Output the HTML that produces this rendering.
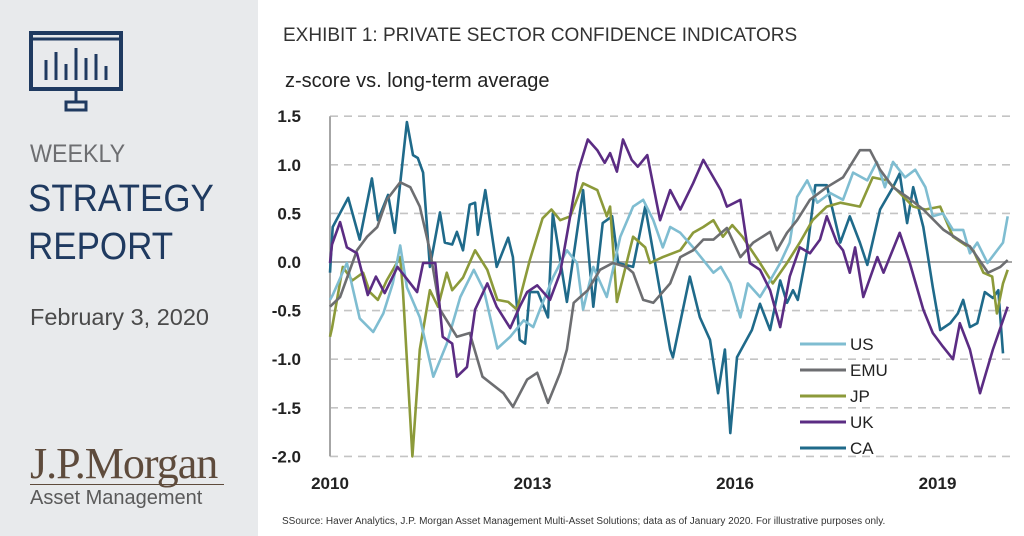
<!DOCTYPE html>
<html><head><meta charset="utf-8"><style>
body{margin:0;width:1024px;height:536px;overflow:hidden;background:#fff;font-family:"Liberation Sans",sans-serif}
#side{position:absolute;left:0;top:0;width:258px;height:536px;background:#e8eaec}
.t{position:absolute;white-space:nowrap}
</style></head><body>
<div id="side">
<svg class="t" style="left:28px;top:30px" width="96" height="84">
<rect x="3" y="3" width="90" height="56" fill="none" stroke="#1f3a60" stroke-width="4"/>
<line x1="3" y1="9" x2="93" y2="9" stroke="#1f3a60" stroke-width="3"/>
<g stroke="#1f3a60" stroke-width="3"><line x1="18" y1="50" x2="18" y2="30"/><line x1="28" y1="50" x2="28" y2="22"/><line x1="38" y1="50" x2="38" y2="34"/><line x1="48" y1="50" x2="48" y2="18"/><line x1="58" y1="50" x2="58" y2="28"/><line x1="68" y1="50" x2="68" y2="24"/><line x1="78" y1="50" x2="78" y2="36"/><line x1="48" y1="59" x2="48" y2="72"/></g>
<rect x="38" y="72" width="20" height="8" fill="none" stroke="#1f3a60" stroke-width="3"/>
</svg>
<div class="t" style="left:30px;top:140px;font-size:25px;color:#6d6e71;transform:scaleX(0.93);transform-origin:left">WEEKLY</div>
<div class="t" style="left:28px;top:178px;font-size:38px;color:#1f3a60;transform:scaleX(0.92);transform-origin:left">STRATEGY</div>
<div class="t" style="left:28px;top:226px;font-size:38px;color:#1f3a60;transform:scaleX(0.92);transform-origin:left">REPORT</div>
<div class="t" style="left:30px;top:304px;font-size:23.5px;color:#4a4a4a">February 3, 2020</div>
<div class="t" style="left:30px;top:438px;font-size:44px;color:#5e4b3c;font-family:'Liberation Serif',serif;letter-spacing:-1px">J.P.Morgan</div>
<div class="t" style="left:30px;top:484px;font-size:20px;color:#5a5a5a;border-top:1.5px solid #5e4b3c;padding-top:2px;width:194px">Asset Management</div>
</div>
<div class="t" style="left:283px;top:25px;font-size:19px;color:#333">EXHIBIT 1: PRIVATE SECTOR CONFIDENCE INDICATORS</div>
<div class="t" style="left:285px;top:70px;font-size:20px;color:#222">z-score vs. long-term average</div>
<div class="t" style="left:282px;top:516px;font-size:10px;color:#333">SSource: Haver Analytics, J.P. Morgan Asset Management Multi-Asset Solutions; data as of January 2020. For illustrative purposes only.</div>
<svg id="chart" class="t" style="left:0;top:0" width="1024" height="536"></svg>
<script>
const yTicks=[1.5,1.0,0.5,0.0,-0.5,-1.0,-1.5,-2.0];
const yTickLabels=["1.5","1.0","0.5","0.0","-0.5","-1.0","-1.5","-2.0"];
const xTicks=[0,3,6,9];
const xTickLabels=["2010","2013","2016","2019"];
const seriesNames=["US","EMU","JP","UK","CA"];
const seriesColors=["#7fbdd1","#6d6e71","#8c9a3a","#5b2c83","#1f6a8a"];
// time in years since Jan 2010
const usT=[0,.04,.25,.44,.64,.79,.93,1.04,1.14,1.33,1.53,1.73,1.93,2.13,2.28,2.48,2.67,2.87,3.01,3.11,3.31,3.51,3.66,3.75,3.90,4.10,4.30,4.49,4.64,4.79,4.93,5.04,5.19,5.38,5.53,5.68,5.79,5.93,6.08,6.19,6.37,6.52,6.67,6.81,6.92,7.07,7.22,7.41,7.60,7.75,7.96,8.10,8.22,8.34,8.52,8.67,8.82,8.93,9.08,9.23,9.38,9.48,9.59,9.74,9.97,10.04];
const usV=[-.39,-.34,-.01,-.58,-.72,-.53,-.22,.17,-.26,-.57,-1.18,-.84,-.36,-.08,-.29,-.89,-.77,-.6,-.67,-.49,-.15,.12,-.01,-.49,-.05,-.36,.26,.57,.64,.43,.15,.36,.3,.15,.02,-.11,-.05,-.22,-.57,-.22,-.36,-.19,-.01,.2,.67,.84,.61,.71,.64,.92,.84,1.03,.77,1.03,.87,.95,.77,.47,.5,.33,.33,.09,.2,-.01,.2,.47];
const emuT=[0,.15,.4,.55,.7,.84,1.04,1.19,1.33,1.48,1.63,1.88,2.07,2.26,2.57,2.71,2.92,3.07,3.23,3.41,3.51,3.61,3.82,4.0,4.19,4.39,4.49,4.64,4.79,5.04,5.19,5.38,5.53,5.68,5.88,6.08,6.27,6.52,6.62,6.77,6.92,7.11,7.36,7.60,7.85,8.0,8.15,8.34,8.55,8.79,9.09,9.38,9.48,9.75,9.93,10.04];
const emuV=[-.46,-.36,.12,.26,.36,.64,.82,.77,.57,.12,-.49,-.77,-.73,-1.18,-1.35,-1.49,-1.21,-1.14,-1.45,-1.14,-.9,-.42,-.29,-.08,-.01,-.05,-.11,-.39,-.42,-.22,.05,.12,.23,.23,.35,.05,.2,.31,.12,.3,.43,.64,.77,.87,1.15,1.15,.95,.77,.67,.54,.33,.2,.16,-.11,-.05,.02];
const jpT=[0,.03,.19,.33,.49,.59,.71,.84,1.04,1.08,1.22,1.33,1.48,1.60,1.73,1.81,1.97,2.15,2.33,2.48,2.64,2.77,2.96,3.15,3.28,3.41,3.56,3.75,3.96,4.10,4.15,4.25,4.49,4.59,4.67,4.74,4.93,5.19,5.38,5.53,5.68,5.82,5.96,6.11,6.37,6.56,6.77,6.96,7.15,7.36,7.56,7.85,8.04,8.25,8.44,8.64,8.82,9.04,9.23,9.53,9.68,9.81,9.88,9.97,10.04];
const jpV=[-.77,-.68,-.05,-.19,-.11,-.31,-.39,-.19,.05,-.29,-2.0,-.9,-.29,-.46,-.11,-.29,-.16,.12,-.08,-.39,-.41,-.49,.02,.45,.54,.43,.47,.81,.74,.47,.57,-.41,.26,.2,.15,-.01,.05,.12,.3,.36,.43,.26,.38,.26,-.01,-.22,-.01,.2,.43,.57,.61,.57,.87,.84,.71,.57,.54,.57,.26,.12,-.11,-.15,-.53,-.22,-.08];
const ukT=[0,.03,.15,.25,.4,.56,.68,.81,1.0,1.29,1.38,1.56,1.67,1.81,1.88,2.03,2.15,2.33,2.47,2.67,2.81,2.92,3.07,3.26,3.41,3.53,3.67,3.82,3.96,4.07,4.15,4.25,4.34,4.47,4.56,4.70,4.89,5.04,5.19,5.38,5.53,5.68,5.79,5.88,6.08,6.22,6.37,6.52,6.67,6.81,6.96,7.11,7.26,7.36,7.51,7.60,7.70,7.78,7.90,8.11,8.20,8.44,8.59,8.79,8.93,9.08,9.23,9.33,9.48,9.63,9.82,10.04];
const ukV=[-.01,.18,.41,.15,.09,-.34,-.15,-.32,-.05,-.31,-.01,-.01,-.77,-.84,-1.18,-1.08,-.49,-.22,-.46,-.68,-.46,-.31,-.24,-.39,-.11,.36,.92,1.26,1.15,1.02,1.12,.93,1.26,1.05,.98,1.1,.43,.74,.54,.81,1.05,.87,.74,.57,.64,-.01,-.08,-.29,-.67,-.15,.15,.09,.23,.47,.2,.12,-.11,.15,-.36,.05,-.11,.3,-.01,-.49,-.73,-.87,-1.0,-.63,-.9,-1.35,-.9,-.46];
const caT=[0,.04,.27,.44,.62,.71,.86,.96,1.14,1.23,1.30,1.38,1.48,1.63,1.70,1.81,1.88,1.97,2.07,2.15,2.19,2.30,2.47,2.64,2.71,2.81,2.89,2.96,3.08,3.23,3.30,3.51,3.75,3.90,4.04,4.18,4.27,4.49,4.67,5.04,5.08,5.33,5.48,5.63,5.75,5.85,5.93,6.03,6.25,6.37,6.52,6.67,6.77,6.86,6.93,7.07,7.19,7.36,7.56,7.70,7.85,7.96,8.15,8.34,8.44,8.55,8.64,8.79,8.93,9.04,9.19,9.30,9.38,9.48,9.59,9.70,9.82,9.90,9.97];
const caV=[-.11,.36,.66,.23,.86,.43,.69,.3,1.44,1.1,1.07,.92,-.05,.51,.2,.18,.31,.12,.59,.61,.28,.74,-.05,.25,.05,-.8,-.84,-.31,-.31,-.57,.5,-.41,.74,-.46,.4,.47,-.01,-.05,.57,-.9,-.98,-.15,-.57,-.8,-1.35,-.9,-1.76,-.98,-.7,-.43,-.7,-.19,-.42,-.29,-.39,.12,.79,.79,.2,.47,.2,-.03,.54,.77,.91,.4,.77,.36,-.26,-.7,-.63,-.53,-.39,-.67,-.63,-.31,-.37,-.29,-.94];
const allT=[usT,emuT,jpT,ukT,caT], allV=[usV,emuV,jpV,ukV,caV];
const NS="http://www.w3.org/2000/svg", svg=document.getElementById('chart');
const X0=330,X1=1012,Y0=262,YS=97.2;
const xs=t=>X0+t*67.5, ys=v=>Y0-v*YS;
function mk(tag,a,parent){const e=document.createElementNS(NS,tag);for(const k in a)e.setAttribute(k,a[k]);(parent||svg).appendChild(e);return e;}
yTicks.forEach((v,i)=>{
 const g=mk('line',{x1:X0,x2:X1,y1:ys(v),y2:ys(v),stroke:v===0?'#a6a6a6':'#c4c4c4','stroke-width':v===0?2:1.6,'stroke-dasharray':v===0?'':'8,6'});
 
 
 const l=mk('text',{x:301,y:ys(v)+6,'text-anchor':'end','font-size':17,'font-weight':'bold',fill:'#222','font-family':'Liberation Sans, sans-serif'});
 l.textContent=yTickLabels[i];
 
 
});
const ax=mk('line',{x1:X0,x2:X0,y1:ys(1.5),y2:ys(-2),stroke:'#a6a6a6','stroke-width':2});


xTicks.forEach((t,i)=>{
 const l=mk('text',{x:xs(t),y:489,'text-anchor':'middle','font-size':17,'font-weight':'bold',fill:'#222','font-family':'Liberation Sans, sans-serif'});
 l.textContent=xTickLabels[i];
 
 
});
[4,2,0,1,3].forEach(s=>{
 const d=allT[s].map((t,i)=>(i?'L':'M')+xs(t).toFixed(1)+','+ys(allV[s][i]).toFixed(1)).join('');
 const p=mk('path',{d:d,fill:'none',stroke:seriesColors[s],'stroke-width':2.6,'stroke-linejoin':'round'});
 
 
});
seriesNames.forEach((n,i)=>{
 const y=344+i*26;
 const ln=mk('line',{x1:800,x2:846,y1:y,y2:y,stroke:seriesColors[i],'stroke-width':3});
 
 
 const tx=mk('text',{x:850,y:y+6,'font-size':17,fill:'#222','font-family':'Liberation Sans, sans-serif'});
 tx.textContent=n;
 
 
});
</script>
</body></html>
